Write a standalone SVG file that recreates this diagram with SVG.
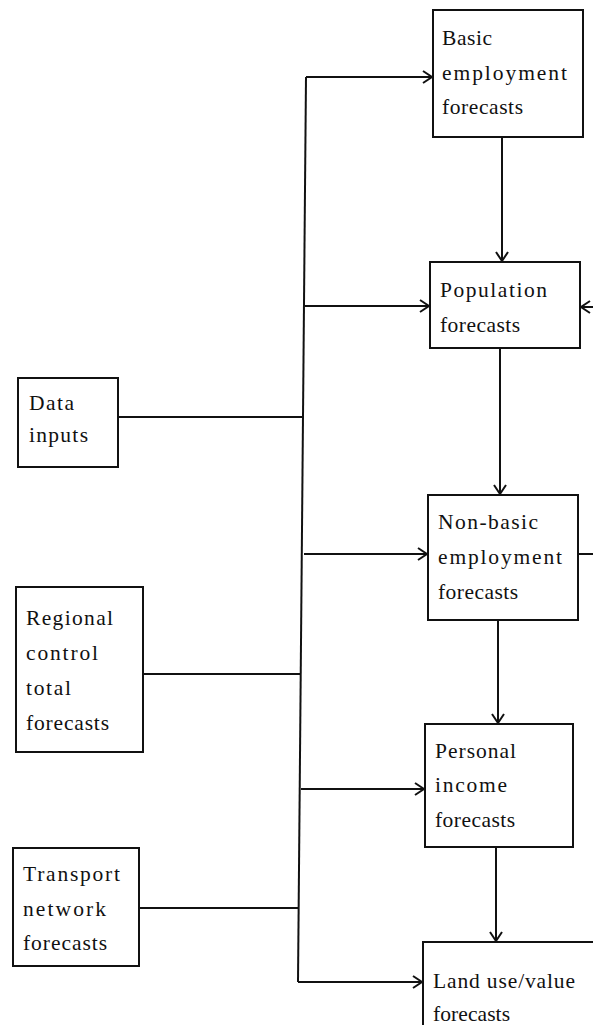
<svg xmlns="http://www.w3.org/2000/svg" width="593" height="1025" viewBox="0 0 593 1025">
  <style>
    .box { fill: #fff; stroke: #111; stroke-width: 2; }
    .lbl { font-family: "Liberation Serif", "Times New Roman", serif; font-size: 21.5px; fill: #111; }
    .wire { fill: none; stroke: #111; stroke-width: 2; }
  </style>
  <defs>
    <marker id="chev" markerUnits="userSpaceOnUse" markerWidth="14" markerHeight="16" viewBox="-12 -8 14 16" refX="0" refY="0" orient="auto">
      <path d="M-9,-6 L0,0 L-9,6" fill="none" stroke="#111" stroke-width="2"/>
    </marker>
  </defs>
  <rect width="593" height="1025" fill="#fff"/>

  <!-- connectors -->
  <g id="connectors">
    <!-- shared trunk on the left of the forecast column -->
    <line class="wire" x1="306" y1="77" x2="298" y2="982"/>
    <!-- inputs into the trunk -->
    <line class="wire" x1="118" y1="417" x2="303" y2="417"/>
    <line class="wire" x1="143" y1="674" x2="301" y2="674"/>
    <line class="wire" x1="139" y1="908" x2="299" y2="908"/>
    <!-- trunk branches into each forecast box -->
    <line class="wire" x1="306" y1="77" x2="432" y2="77" marker-end="url(#chev)"/>
    <line class="wire" x1="305" y1="306" x2="429" y2="306" marker-end="url(#chev)"/>
    <line class="wire" x1="304" y1="554" x2="427" y2="554" marker-end="url(#chev)"/>
    <line class="wire" x1="301" y1="789" x2="424" y2="789" marker-end="url(#chev)"/>
    <line class="wire" x1="298" y1="982" x2="422" y2="982" marker-end="url(#chev)"/>
    <!-- downward chain -->
    <line class="wire" x1="502" y1="137" x2="502" y2="261" marker-end="url(#chev)"/>
    <line class="wire" x1="500" y1="348" x2="500" y2="494" marker-end="url(#chev)"/>
    <line class="wire" x1="498" y1="620" x2="498" y2="723" marker-end="url(#chev)"/>
    <line class="wire" x1="496" y1="847" x2="496" y2="941" marker-end="url(#chev)"/>
    <!-- feedback on the right edge -->
    <line class="wire" x1="596" y1="307" x2="581" y2="307" marker-end="url(#chev)"/>
    <line class="wire" x1="578" y1="554" x2="596" y2="554"/>
  </g>

  <g id="basic-employment">
    <rect class="box" x="433" y="10" width="150" height="127"/>
    <text class="lbl" x="442" y="45" textLength="50" lengthAdjust="spacing">Basic</text>
    <text class="lbl" x="442" y="80" textLength="125" lengthAdjust="spacing">employment</text>
    <text class="lbl" x="442" y="114" textLength="81" lengthAdjust="spacing">forecasts</text>
  </g>

  <g id="population">
    <rect class="box" x="430" y="262" width="150" height="86"/>
    <text class="lbl" x="440" y="297" textLength="107" lengthAdjust="spacing">Population</text>
    <text class="lbl" x="440" y="332" textLength="80" lengthAdjust="spacing">forecasts</text>
  </g>

  <g id="non-basic-employment">
    <rect class="box" x="428" y="495" width="150" height="125"/>
    <text class="lbl" x="438" y="529" textLength="100" lengthAdjust="spacing">Non-basic</text>
    <text class="lbl" x="438" y="564" textLength="124" lengthAdjust="spacing">employment</text>
    <text class="lbl" x="438" y="599" textLength="80" lengthAdjust="spacing">forecasts</text>
  </g>

  <g id="personal-income">
    <rect class="box" x="425" y="724" width="148" height="123"/>
    <text class="lbl" x="435" y="758" textLength="81" lengthAdjust="spacing">Personal</text>
    <text class="lbl" x="435" y="792" textLength="72" lengthAdjust="spacing">income</text>
    <text class="lbl" x="435" y="827" textLength="80" lengthAdjust="spacing">forecasts</text>
  </g>

  <g id="land-use-value">
    <rect class="box" x="423" y="942" width="190" height="100"/>
    <text class="lbl" x="433" y="988" textLength="142" lengthAdjust="spacing">Land use/value</text>
    <text class="lbl" x="433" y="1021" textLength="77" lengthAdjust="spacing">forecasts</text>
  </g>

  <g id="data-inputs">
    <rect class="box" x="18" y="378" width="100" height="89"/>
    <text class="lbl" x="29" y="410" textLength="45" lengthAdjust="spacing">Data</text>
    <text class="lbl" x="29" y="442" textLength="59" lengthAdjust="spacing">inputs</text>
  </g>

  <g id="regional-control">
    <rect class="box" x="16" y="587" width="127" height="165"/>
    <text class="lbl" x="26" y="625" textLength="87" lengthAdjust="spacing">Regional</text>
    <text class="lbl" x="26" y="660" textLength="72" lengthAdjust="spacing">control</text>
    <text class="lbl" x="26" y="695" textLength="45" lengthAdjust="spacing">total</text>
    <text class="lbl" x="26" y="730" textLength="83" lengthAdjust="spacing">forecasts</text>
  </g>

  <g id="transport-network">
    <rect class="box" x="13" y="848" width="126" height="118"/>
    <text class="lbl" x="23" y="881" textLength="97" lengthAdjust="spacing">Transport</text>
    <text class="lbl" x="23" y="916" textLength="83" lengthAdjust="spacing">network</text>
    <text class="lbl" x="23" y="950" textLength="84" lengthAdjust="spacing">forecasts</text>
  </g>
</svg>
